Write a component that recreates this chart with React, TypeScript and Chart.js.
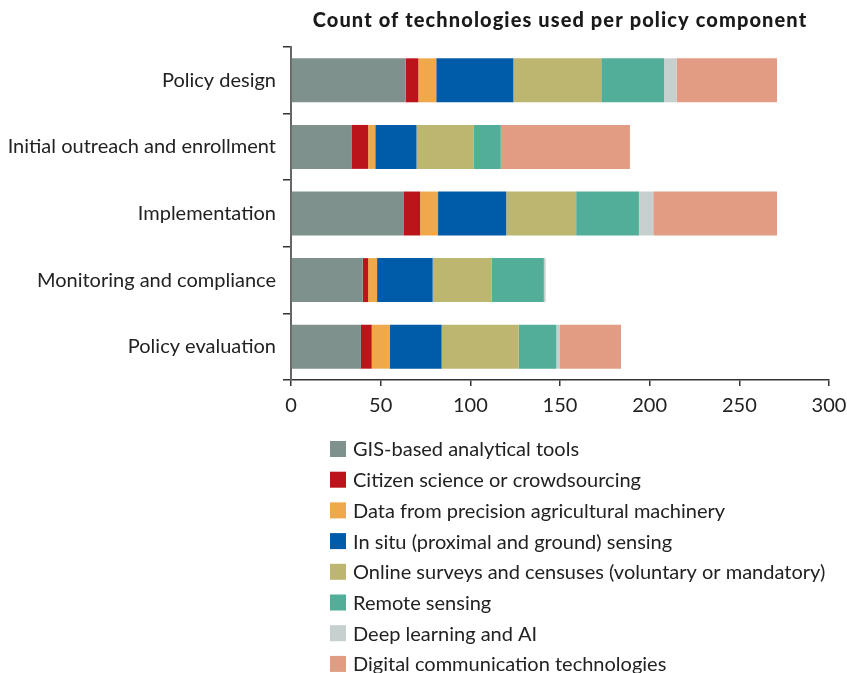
import React, { useEffect, useRef } from "react";
import { Chart, registerables } from "chart.js";

Chart.register(...registerables);

const categories = [
  "Policy design",
  "Initial outreach and enrollment",
  "Implementation",
  "Monitoring and compliance",
  "Policy evaluation",
];

const seriesNames = [
  "GIS-based analytical tools",
  "Citizen science or crowdsourcing",
  "Data from precision agricultural machinery",
  "In situ (proximal and ground) sensing",
  "Online surveys and censuses (voluntary or mandatory)",
  "Remote sensing",
  "Deep learning and AI",
  "Digital communication technologies",
];

const seriesColors = [
  "#7f918d",
  "#bb141b",
  "#efa84a",
  "#005ba9",
  "#bcb671",
  "#52ae98",
  "#c5d0cf",
  "#e29c83",
];

const gisTools = [64, 34, 63, 40, 39];
const citizenScience = [7, 9, 9, 3, 6];
const precisionMachinery = [10, 4, 10, 5, 10];
const inSituSensing = [43, 23, 38, 31, 29];
const onlineSurveys = [49, 32, 39, 33, 43];
const remoteSensing = [35, 15, 35, 29, 21];
const deepLearning = [7, 0, 8, 1, 2];
const digitalComm = [56, 72, 69, 0, 34];

const seriesValues = [
  gisTools,
  citizenScience,
  precisionMachinery,
  inSituSensing,
  onlineSurveys,
  remoteSensing,
  deepLearning,
  digitalComm,
];

const xMin = 0;
const xMax = 300;
const xStep = 50;

const titleText = "Count of technologies used per policy component";
const FONT = "Lato, 'Open Sans', sans-serif";

const titlePlugin = {
  id: "areaTitle",
  afterDraw(chart: any) {
    const ctx = chart.ctx;
    const area = chart.chartArea;
    ctx.save();
    ctx.font = `900 20px ${FONT}`;
    try {
      (ctx as any).letterSpacing = "1.1px";
    } catch (e) {}
    ctx.fillStyle = "#1a1a1a";
    ctx.textAlign = "center";
    ctx.textBaseline = "middle";
    ctx.fillText(titleText, (area.left + area.right) / 2, 21);
    ctx.restore();
  },
};

const legendPlugin = {
  id: "columnLegend",
  afterDraw(chart: any) {
    const ctx = chart.ctx;
    const area = chart.chartArea;
    const x0 = area.left + 39;
    const yStart = area.bottom + 69;
    const rowGap = 30.7;
    ctx.save();
    ctx.font = `20px ${FONT}`;
    ctx.textBaseline = "middle";
    ctx.textAlign = "left";
    chart.data.datasets.forEach((ds: any, i: number) => {
      const y = yStart + i * rowGap;
      ctx.fillStyle = ds.backgroundColor;
      ctx.fillRect(x0, y - 8, 16, 16);
      ctx.fillStyle = "#222";
      ctx.fillText(ds.label, x0 + 23, y + 1);
    });
    ctx.restore();
  },
};

export default function App() {
  const canvasRef = useRef<HTMLCanvasElement | null>(null);

  useEffect(() => {
    document.body.style.margin = "0";
    const canvas = canvasRef.current;
    if (!canvas) return;
    const chart = new Chart(canvas, {
      type: "bar",
      data: {
        labels: categories,
        datasets: seriesNames.map((name, i) => ({
          label: name,
          data: seriesValues[i],
          backgroundColor: seriesColors[i],
          borderWidth: 0,
          categoryPercentage: 1,
          barPercentage: 0.66,
        })),
      },
      options: {
        indexAxis: "y",
        responsive: false,
        animation: false,
        layout: { padding: { left: 0, right: 18, top: 47, bottom: 253 } },
        plugins: {
          legend: { display: false },
          tooltip: { enabled: false },
          title: { display: false },
        },
        scales: {
          x: {
            stacked: true,
            min: xMin,
            max: xMax,
            ticks: {
              stepSize: xStep,
              color: "#222",
              font: { family: FONT, size: 20 },
              padding: 8,
            },
            grid: {
              display: true,
              drawOnChartArea: false,
              drawTicks: true,
              tickLength: 6,
              color: "#333",
              lineWidth: 1.5,
            },
            border: { display: true, color: "#333", width: 1.5 },
            afterFit(scale: any) {
              scale.height = 40;
              scale.paddingRight = 0;
              scale.paddingLeft = 0;
            },
          },
          y: {
            stacked: true,
            ticks: {
              color: "#222",
              font: { family: FONT, size: 20 },
              padding: 7,
            },
            grid: {
              display: true,
              offset: true,
              drawOnChartArea: false,
              drawTicks: true,
              tickLength: 8,
              color: "#333",
              lineWidth: 1.5,
            },
            border: { display: true, color: "#666", width: 2 },
            afterFit(scale: any) {
              scale.width = 291;
              scale.paddingTop = 0;
              scale.paddingBottom = 0;
            },
          },
        },
      },
      plugins: [titlePlugin, legendPlugin],
    } as any);
    return () => chart.destroy();
  }, []);

  return (
    <div style={{ width: 847, height: 673, position: "relative" }}>
      <canvas ref={canvasRef} width={847} height={673} style={{ display: "block" }} />
    </div>
  );
}
